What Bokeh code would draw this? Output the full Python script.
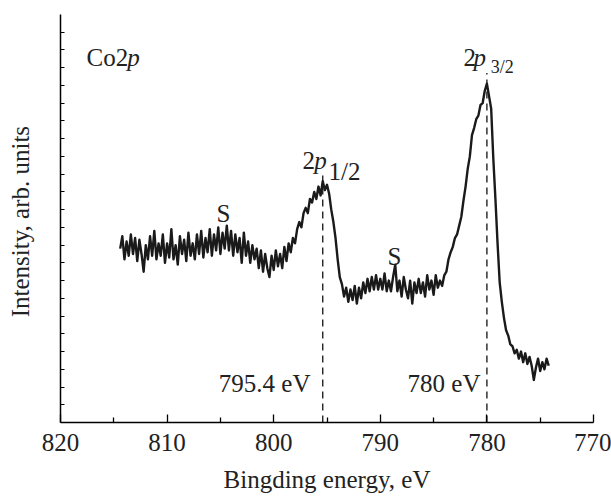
from bokeh.plotting import figure
from bokeh.models import Range1d, FixedTicker, Label, CustomJSTickFormatter
from bokeh.embed import file_html
from bokeh.resources import INLINE

# ---- data (binding energy, eV ; intensity, arb. units) ----
energy = [
    814.4, 814.2, 814.0, 813.8, 813.6, 813.4, 813.2, 813.0, 812.8, 812.6,
    812.4, 812.2, 812.0, 811.8, 811.6, 811.4, 811.2, 811.0, 810.8, 810.6,
    810.4, 810.2, 810.0, 809.8, 809.6, 809.4, 809.2, 809.0, 808.8, 808.6,
    808.4, 808.2, 808.0, 807.8, 807.6, 807.4, 807.2, 807.0, 806.8, 806.6,
    806.4, 806.2, 806.0, 805.8, 805.6, 805.4, 805.2, 805.0, 804.8, 804.6,
    804.4, 804.2, 804.0, 803.8, 803.6, 803.4, 803.2, 803.0, 802.8, 802.6,
    802.4, 802.2, 802.0, 801.8, 801.6, 801.4, 801.2, 801.0, 800.8, 800.6,
    800.4, 800.2, 800.0, 799.8, 799.6, 799.4, 799.2, 799.0, 798.8, 798.6,
    798.4, 798.2, 798.0, 797.8, 797.6, 797.4, 797.2, 797.0, 796.8, 796.6,
    796.4, 796.2, 796.0, 795.8, 795.6, 795.4, 795.2, 795.0, 794.8, 794.6,
    794.4, 794.2, 794.0, 793.8, 793.6, 793.4, 793.2, 793.0, 792.8, 792.6,
    792.4, 792.2, 792.0, 791.8, 791.6, 791.4, 791.2, 791.0, 790.8, 790.6,
    790.4, 790.2, 790.0, 789.8, 789.6, 789.4, 789.2, 789.0, 788.8, 788.6,
    788.4, 788.2, 788.0, 787.8, 787.6, 787.4, 787.2, 787.0, 786.8, 786.6,
    786.4, 786.2, 786.0, 785.8, 785.6, 785.4, 785.2, 785.0, 784.8, 784.6,
    784.4, 784.2, 784.0, 783.8, 783.6, 783.4, 783.2, 783.0, 782.8, 782.6,
    782.4, 782.2, 782.0, 781.8, 781.6, 781.4, 781.2, 781.0, 780.8, 780.6,
    780.4, 780.2, 780.0, 779.8, 779.6, 779.4, 779.2, 779.0, 778.8, 778.6,
    778.4, 778.2, 778.0, 777.8, 777.6, 777.4, 777.2, 777.0, 776.8, 776.6,
    776.4, 776.2, 776.0, 775.8, 775.6, 775.4, 775.2, 775.0, 774.8, 774.6,
    774.4, 774.2,
]
intensity = [
    9.8, 10.5, 9.2, 10.2, 9.4, 10.6, 9.5, 10.4, 9.1, 10.3,
    9.5, 8.5, 10.0, 9.2, 10.5, 9.4, 10.8, 9.2, 10.1, 9.4,
    10.6, 9.0, 10.1, 9.3, 10.9, 9.2, 10.0, 8.9, 10.5, 9.5,
    10.3, 9.1, 10.7, 9.4, 10.1, 9.2, 10.6, 9.5, 10.8, 9.3,
    10.4, 9.6, 10.9, 9.4, 10.6, 9.7, 11.0, 9.5, 10.7, 9.8,
    11.1, 9.7, 10.8, 9.4, 10.6, 9.6, 10.4, 9.0, 10.7, 9.4,
    10.2, 9.0, 10.0, 9.2, 9.8, 8.7, 9.7, 8.5, 9.5, 8.7,
    8.2, 9.4, 8.6, 9.7, 8.8, 9.5, 8.7, 9.9, 9.1, 10.1,
    9.6, 10.4, 10.1, 10.9, 11.3, 11.0, 11.8, 12.1, 11.8, 12.6,
    12.4, 13.0, 12.6, 13.3, 12.8, 13.6, 13.1, 13.4, 12.9, 12.0,
    11.3, 10.4, 9.2, 8.2, 7.8, 7.1, 7.6, 6.8, 7.5, 6.9,
    7.7, 6.7, 7.6, 7.0, 7.9, 7.3, 8.1, 7.4, 8.2, 7.5,
    8.3, 7.5, 8.1, 7.5, 8.4, 7.4, 8.0, 7.4, 8.2, 8.9,
    7.4, 8.0, 7.1, 8.2, 7.5, 7.0, 8.0, 6.7, 7.9, 7.3,
    8.1, 7.3, 7.9, 7.1, 8.3, 7.5, 8.0, 7.2, 8.3, 7.6,
    8.0, 7.7, 8.3, 8.5, 9.2, 9.6, 9.9, 10.4, 10.6, 11.1,
    11.6, 12.5, 13.3, 14.3, 15.0, 16.2, 16.6, 17.1, 17.3, 17.9,
    18.0, 18.7, 19.1, 18.4, 17.7, 14.9, 12.6, 10.1, 7.9, 6.8,
    5.9, 5.2, 4.9, 4.4, 4.3, 3.9, 4.1, 3.6, 4.0, 3.4,
    3.9, 3.3, 3.7, 3.2, 2.4, 3.1, 3.6, 2.9, 3.4, 3.0,
    3.6, 3.2,
]

x_major_ticks = [820, 810, 800, 790, 780, 770]
x_minor_ticks = [815, 805, 795, 785, 775]
y_ticks = [1, 2, 3, 4, 5, 6, 7, 8, 9, 10, 11, 12, 13, 14, 15, 16, 17, 18, 19, 20, 21, 22]

peak_energy = [795.4, 780.0]
peak_top = [14.1, 19.7]
peak_labels = ["795.4 eV", "780 eV"]

FONT = "Liberation Serif"
INK = "#222222"

p = figure(width=611, height=502, output_backend="svg", toolbar_location=None,
           x_range=Range1d(820, 770), y_range=Range1d(0, 23),
           min_border_left=60, min_border_right=18, min_border_top=14, min_border_bottom=80)
p.outline_line_color = None
p.grid.visible = False
p.background_fill_color = "white"
p.border_fill_color = "white"

# x axis
xa = p.xaxis[0]
xa.ticker = FixedTicker(ticks=x_major_ticks, minor_ticks=x_minor_ticks)
xa.major_tick_in = 8
xa.major_tick_out = 0
xa.minor_tick_in = 5
xa.minor_tick_out = 0
xa.axis_line_width = 1.5
xa.major_tick_line_width = 1.3
xa.minor_tick_line_width = 1.3
xa.major_label_text_font = FONT
xa.major_label_text_font_size = "25px"
xa.major_label_text_color = INK
xa.major_label_standoff = 11
xa.axis_label = "Bingding energy, eV"
xa.axis_label_text_font = FONT
xa.axis_label_text_font_size = "25px"
xa.axis_label_text_font_style = "normal"
xa.axis_label_text_color = INK
xa.axis_label_standoff = 12

# y axis (ticks only, no numbers)
ya = p.yaxis[0]
ya.ticker = FixedTicker(ticks=y_ticks, minor_ticks=[])
ya.formatter = CustomJSTickFormatter(code="return ''")
ya.major_tick_in = 4
ya.major_tick_out = 0
ya.axis_line_width = 1.5
ya.major_tick_line_width = 1.2
ya.major_label_standoff = 0
ya.axis_label = "Intensity,  arb. units"
ya.axis_label_text_font = FONT
ya.axis_label_text_font_size = "25px"
ya.axis_label_text_font_style = "normal"
ya.axis_label_text_color = INK
ya.axis_label_standoff = 27

# dashed peak markers
p.segment(x0=peak_energy, y0=[0, 0], x1=peak_energy, y1=peak_top,
          line_color=INK, line_width=1.4, line_dash="7 5")

# spectrum
p.line(energy, intensity, line_color="#1a1a1a", line_width=2.4, line_join="round")

def lab(x, y, text, size="25px", style="normal", align="left"):
    p.add_layout(Label(x=x, y=y, text=text, text_font=FONT, text_font_size=size,
                       text_font_style=style, text_align=align,
                       text_baseline="alphabetic", text_color=INK))

# Co2p
lab(817.56, 20.59, "Co2")
lab(813.75, 20.59, "p", style="italic")
# 2p1/2
lab(797.30, 14.78, "2")
lab(796.20, 14.78, "p", style="italic")
lab(794.85, 14.15, "1/2")
# 2p3/2
lab(782.20, 20.59, "2")
lab(781.25, 20.59, "p", style="italic")
lab(779.65, 20.05, "3/2", size="18px")
# satellites
lab(804.71, 11.79, "S", align="center")
lab(788.67, 9.36, "S", align="center")
# energies
lab(796.55, 2.2, peak_labels[0], align="right")
lab(780.60, 2.2, peak_labels[1], align="right")

open("out.html", "w").write(file_html(p, INLINE))
